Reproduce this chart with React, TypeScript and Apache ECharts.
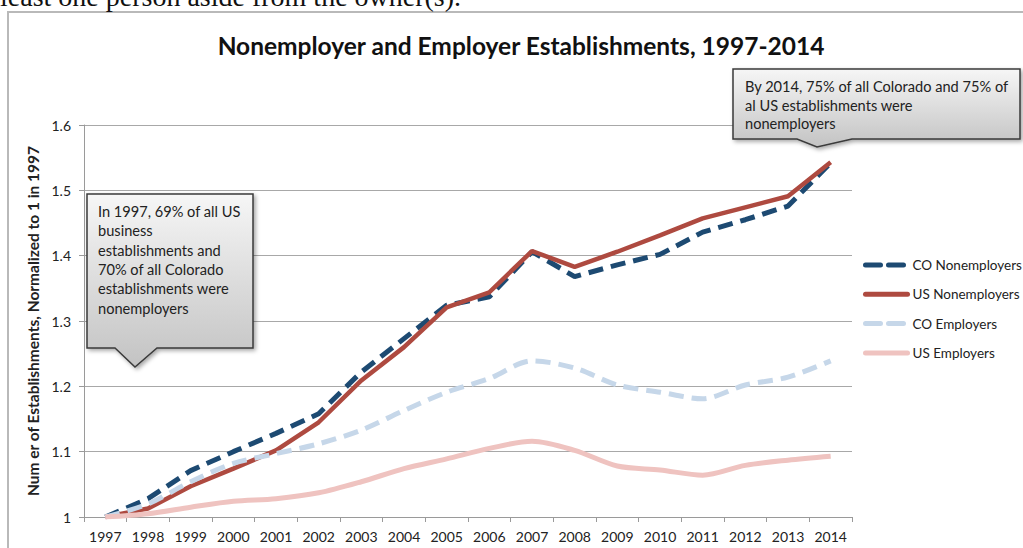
import React, { useEffect, useRef } from "react";
import * as echarts from "echarts";

const years = ["1997","1998","1999","2000","2001","2002","2003","2004","2005","2006","2007","2008","2009","2010","2011","2012","2013","2014"];
const coNonemployers = [1.0, 1.028, 1.071, 1.1, 1.128, 1.158, 1.222, 1.273, 1.324, 1.337, 1.406, 1.368, 1.386, 1.402, 1.436, 1.455, 1.476, 1.542];
const usNonemployers = [1.0, 1.013, 1.047, 1.074, 1.102, 1.145, 1.209, 1.26, 1.321, 1.344, 1.407, 1.383, 1.406, 1.431, 1.457, 1.474, 1.491, 1.543];
const coEmployers = [1.0, 1.02, 1.054, 1.082, 1.097, 1.112, 1.133, 1.163, 1.191, 1.212, 1.239, 1.228, 1.202, 1.191, 1.181, 1.202, 1.214, 1.239];
const usEmployers = [1.0, 1.005, 1.015, 1.024, 1.028, 1.037, 1.054, 1.074, 1.089, 1.105, 1.116, 1.102, 1.078, 1.072, 1.064, 1.079, 1.087, 1.093];
const seriesNames = ["CO Nonemployers", "US Nonemployers", "CO Employers", "US Employers"];

const titleText = "Nonemployer and Employer Establishments, 1997-2014";
const yAxisTitle = "Num er of Establishments, Normalized to 1 in 1997";
const callout1 = "In 1997, 69% of all US\nbusiness\nestablishments and\n70% of all Colorado\nestablishments were\nnonemployers";
const callout2 = "By 2014, 75% of all Colorado and 75% of\nal US establishments were\nnonemployers";
const topText = "least one person aside from the owner(s).";

const FONT = "Lato, 'Open Sans', sans-serif";

export default function App() {
  const ref = useRef<HTMLDivElement>(null);
  useEffect(() => {
    if (!ref.current) return;
    const chart = echarts.init(ref.current, null, { renderer: "svg" });
    const grad = () =>
      new echarts.graphic.LinearGradient(0, 0, 0, 1, [
        { offset: 0, color: "#f6f6f6" },
        { offset: 1, color: "#c3c3c3" },
      ]);
    const calloutStyle = () => ({
      fill: grad(),
      stroke: "#3a3a3a",
      lineWidth: 1.5,
      shadowBlur: 4,
      shadowColor: "rgba(0,0,0,0.35)",
      shadowOffsetX: 2,
      shadowOffsetY: 2,
    });
    chart.setOption({
      animation: false,
      backgroundColor: "#ffffff",
      grid: { left: 84, right: 171, top: 125, bottom: 31, containLabel: false },
      legend: {
        orient: "vertical",
        left: 863,
        top: 258,
        padding: 0,
        itemWidth: 42,
        itemHeight: 14,
        itemGap: 15.3,
        data: seriesNames,
        itemStyle: { opacity: 0 },
        lineStyle: { width: 5, cap: "round" },
        textStyle: { fontFamily: FONT, fontSize: 13.5, color: "#222" },
      },
      xAxis: {
        type: "category",
        data: years,
        boundaryGap: true,
        axisLine: { lineStyle: { color: "#9a9a9a", width: 1 } },
        axisTick: { show: true, length: 5, lineStyle: { color: "#9a9a9a" } },
        axisLabel: { fontFamily: FONT, fontSize: 14, color: "#222", margin: 12, interval: 0 },
        splitLine: { show: false },
      },
      yAxis: {
        type: "value",
        min: 1,
        max: 1.6,
        interval: 0.1,
        name: yAxisTitle,
        nameLocation: "middle",
        nameRotate: 90,
        nameGap: 33,
        nameTextStyle: { fontFamily: FONT, fontSize: 15.5, fontWeight: "bold", color: "#222" },
        axisLine: { show: true, lineStyle: { color: "#9a9a9a", width: 1 } },
        axisTick: { show: true, length: 5, lineStyle: { color: "#9a9a9a" } },
        axisLabel: {
          fontFamily: FONT,
          fontSize: 14,
          color: "#222",
          margin: 13,
          formatter: (v: number) => String(Math.round(v * 10) / 10),
        },
        splitLine: { show: true, lineStyle: { color: "#a8a8a8", width: 1 } },
      },
      series: [
        {
          name: seriesNames[0],
          type: "line",
          data: coNonemployers,
          symbol: "none",
          lineStyle: { color: "#1d4a72", width: 5, type: [15, 8] },
          itemStyle: { color: "#1d4a72" },
        },
        {
          name: seriesNames[1],
          type: "line",
          data: usNonemployers,
          symbol: "none",
          lineStyle: { color: "#ae4a40", width: 4.5 },
          itemStyle: { color: "#ae4a40" },
        },
        {
          name: seriesNames[2],
          type: "line",
          data: coEmployers,
          symbol: "none",
          smooth: 0.3,
          lineStyle: { color: "#c6d7e9", width: 5, type: [15, 8] },
          itemStyle: { color: "#c6d7e9" },
        },
        {
          name: seriesNames[3],
          type: "line",
          data: usEmployers,
          symbol: "none",
          smooth: 0.3,
          lineStyle: { color: "#efc3c0", width: 5 },
          itemStyle: { color: "#efc3c0" },
        },
      ],
      graphic: [
        {
          type: "rect",
          z: -10,
          silent: true,
          shape: { x: 8, y: 12, width: 1040, height: 580 },
          style: { fill: "#ffffff", stroke: "#b9b9b9", lineWidth: 2 },
        },
        {
          type: "text",
          z: 100,
          x: 0,
          y: -4,
          style: {
            text: topText,
            font: "28px 'Liberation Serif', serif",
            fill: "#111",
            verticalAlign: "middle",
          },
        },
        {
          type: "text",
          z: 100,
          x: 521,
          y: 45,
          style: {
            text: titleText,
            font: `bold 24.5px ${FONT}`,
            fill: "#111",
            align: "center",
            verticalAlign: "middle",
          },
        },
        {
          type: "polygon",
          z: 100,
          shape: {
            points: [[87, 194], [253, 194], [253, 348], [157, 348], [135, 367], [115, 348], [87, 348]],
          },
          style: calloutStyle(),
        },
        {
          type: "text",
          z: 101,
          x: 98,
          y: 202,
          style: {
            text: callout1,
            font: `14.6px ${FONT}`,
            lineHeight: 19.3,
            fill: "#222",
            verticalAlign: "top",
          },
        },
        {
          type: "polygon",
          z: 100,
          shape: {
            points: [[733, 69], [1020, 69], [1020, 139], [852, 139], [817, 147], [797, 139], [733, 139]],
          },
          style: calloutStyle(),
        },
        {
          type: "text",
          z: 101,
          x: 745,
          y: 77,
          style: {
            text: callout2,
            font: `14.6px ${FONT}`,
            lineHeight: 18.7,
            fill: "#222",
            verticalAlign: "top",
          },
        },
      ],
    });
    return () => chart.dispose();
  }, []);
  return (
    <div
      ref={ref}
      style={{ position: "fixed", left: 0, top: 0, width: 1023, height: 548 }}
    />
  );
}
